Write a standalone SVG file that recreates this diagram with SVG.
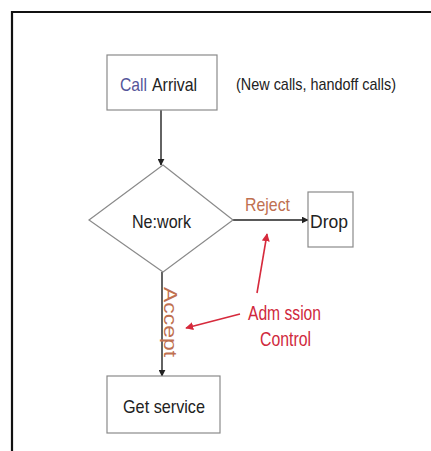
<svg xmlns="http://www.w3.org/2000/svg" width="431" height="451" viewBox="0 0 431 451">
<style>
.box{fill:#fff;stroke:#8a8a8a;stroke-width:1.2}
.t{font-family:"Liberation Sans",Arial,sans-serif;fill:#222}
.k{stroke:#222;stroke-width:1.4;fill:none}
.r{stroke:#d62a3c;stroke-width:1.6;fill:none}
.red{fill:#d0283c}
.br{fill:#c07050}
</style>
<defs>
<marker id="ab" viewBox="0 0 10 10" refX="9" refY="5" markerWidth="7" markerHeight="7" orient="auto" markerUnits="userSpaceOnUse"><path d="M0,0 L10,5 L0,10 z" fill="#222"/></marker>
<marker id="ar" viewBox="0 0 10 10" refX="9" refY="5" markerWidth="8" markerHeight="8" orient="auto" markerUnits="userSpaceOnUse"><path d="M0,0 L10,5 L0,10 z" fill="#d62a3c"/></marker>
</defs>
<rect width="431" height="451" fill="#fff"/>
<path d="M12,451 V12 H431" fill="none" stroke="#111" stroke-width="2.2"/>
<g id="connectors">
<line class="k" x1="161" y1="110" x2="161" y2="165" marker-end="url(#ab)"/>
<line class="k" x1="233" y1="220" x2="308" y2="220" marker-end="url(#ab)"/>
<line class="k" x1="162" y1="272" x2="162" y2="376" marker-end="url(#ab)"/>
<line class="r" x1="257" y1="293" x2="267" y2="234" marker-end="url(#ar)"/>
<line class="r" x1="240" y1="314" x2="186" y2="328" marker-end="url(#ar)"/>
<text class="t br" x="245" y="211" font-size="19" textLength="45" lengthAdjust="spacingAndGlyphs">Reject</text>
<text class="t br" transform="translate(164,287) rotate(90)" font-size="18" textLength="70" lengthAdjust="spacingAndGlyphs">Accept</text>
</g>
<g id="call-arrival">
<rect class="box" x="107" y="55" width="110" height="55"/>
<text class="t" x="120" y="91" font-size="19" textLength="27" lengthAdjust="spacingAndGlyphs" fill="#55559a" style="fill:#55559a">Call</text>
<text class="t" x="152" y="91" font-size="19" textLength="45" lengthAdjust="spacingAndGlyphs">Arrival</text>
</g>
<g id="note">
<text class="t" x="236" y="90" font-size="17" textLength="160" lengthAdjust="spacingAndGlyphs">(New calls, handoff calls)</text>
</g>
<g id="network">
<path d="M163,165 L233,220 L163,272 L89,220 Z" fill="#fff" stroke="#8a8a8a" stroke-width="1.2"/>
<text class="t" x="132" y="228" font-size="19" textLength="59" lengthAdjust="spacingAndGlyphs">Ne:work</text>
</g>
<g id="drop">
<rect class="box" x="308" y="192" width="45" height="55"/>
<text class="t" x="310" y="228" font-size="18" textLength="38" lengthAdjust="spacingAndGlyphs">Drop</text>
</g>
<g id="admission">
<text class="t red" x="248" y="320" font-size="20" textLength="73" lengthAdjust="spacingAndGlyphs">Adm ssion</text>
<text class="t red" x="260" y="346" font-size="20" textLength="51" lengthAdjust="spacingAndGlyphs">Control</text>
</g>
<g id="get-service">
<rect class="box" x="107" y="376" width="113" height="57"/>
<text class="t" x="123" y="413" font-size="19" textLength="82" lengthAdjust="spacingAndGlyphs">Get service</text>
</g>
</svg>
